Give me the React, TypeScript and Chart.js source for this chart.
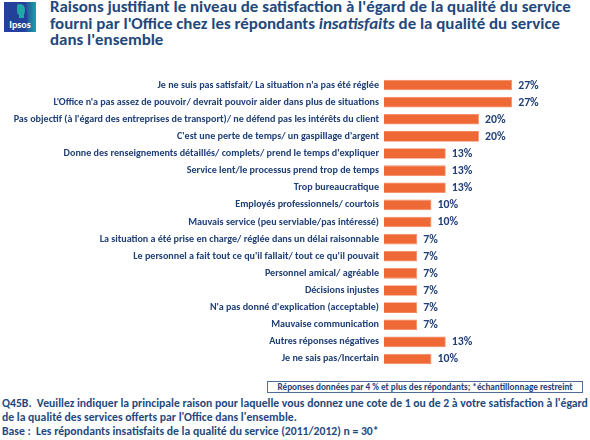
import React, { useEffect, useRef } from "react";
import { Chart, registerables } from "chart.js";

Chart.register(...registerables);

const categories: string[] = [
  "Je ne suis pas satisfait/ La situation n'a pas été réglée",
  "L'Office n'a pas assez de pouvoir/ devrait pouvoir aider dans plus de situations",
  "Pas objectif (à l'égard des entreprises de transport)/ ne défend pas les intérêts du client",
  "C'est une perte de temps/ un gaspillage d'argent",
  "Donne des renseignements détaillés/ complets/ prend le temps d'expliquer",
  "Service lent/le processus prend trop de temps",
  "Trop bureaucratique",
  "Employés professionnels/ courtois",
  "Mauvais service (peu serviable/pas intéressé)",
  "La situation a été prise en charge/ réglée dans un délai raisonnable",
  "Le personnel a fait tout ce qu'il fallait/ tout ce qu'il pouvait",
  "Personnel amical/ agréable",
  "Décisions injustes",
  "N'a pas donné d'explication (acceptable)",
  "Mauvaise communication",
  "Autres réponses négatives",
  "Je ne sais pas/Incertain",
];

const values: number[] = [27, 27, 20, 20, 13, 13, 13, 10, 10, 7, 7, 7, 7, 7, 7, 13, 10];

const titleLine1 = "Raisons justifiant le niveau de satisfaction à l'égard de la qualité du service";
const titleLine2a = "fourni par l'Office chez les répondants ";
const titleLine2b = "insatisfaits";
const titleLine2c = " de la qualité du service";
const titleLine3 = "dans l'ensemble";
const noteText = "Réponses données par 4 % et plus des répondants; *échantillonnage restreint";
const footLines = [
  "Q45B.  Veuillez indiquer la principale raison pour laquelle vous donnez une cote de 1 ou de 2 à votre satisfaction à l'égard",
  "de la qualité des services offerts par l'Office dans l'ensemble.",
  "Base :  Les répondants insatisfaits de la qualité du service (2011/2012) n = 30*",
];

const NAVY = "#1F3F77";
const TITLE = "#1F497D";
const ORANGE = "#EF6936";
const FONT = "Carlito, Lato, sans-serif";

const valueLabels = {
  id: "valueLabels",
  afterDatasetsDraw(chart: any) {
    const ctx = chart.ctx;
    const meta = chart.getDatasetMeta(0);
    ctx.save();
    ctx.font = `bold 11.8px ${FONT}`;
    ctx.fillStyle = NAVY;
    ctx.textAlign = "left";
    ctx.textBaseline = "middle";
    meta.data.forEach((bar: any, i: number) => {
      ctx.fillText(`${values[i]}%`, bar.x + 6, bar.y + 0.5);
    });
    ctx.restore();
  },
};

function Logo() {
  return (
    <svg width="34" height="32" viewBox="0 0 34 32" style={{ position: "absolute", left: 3, top: 1 }}>
      <defs>
        <linearGradient id="tg" x1="0" y1="0" x2="1" y2="0">
          <stop offset="0" stopColor="#2A4A9A" />
          <stop offset="1" stopColor="#15A3A8" />
        </linearGradient>
      </defs>
      <rect x="1" y="1" width="32" height="30" fill="#23409A" />
      <path d="M22 1 L33 1 L33 31 L22 31 Q27 20 22 1 Z" fill="url(#tg)" />
      <path d="M14 5 Q14 3 17 3 Q22 3 22 9 Q22 12 21 13 L21 17 L16 17 L16 14 Q14 13 14 10 Z" fill="#1FA8A6" />
      <text x="17" y="27" textAnchor="middle" fill="#FFFFFF" fontFamily={FONT} fontWeight="bold" fontSize="10">Ipsos</text>
    </svg>
  );
}

export default function App() {
  const ref = useRef<HTMLCanvasElement | null>(null);

  useEffect(() => {
    document.body.style.margin = "0";
    const chart = new Chart(ref.current!, {
      type: "bar",
      data: {
        labels: categories,
        datasets: [
          {
            data: values,
            backgroundColor: ORANGE,
            borderColor: "#F3875C",
            borderWidth: 0.8,
            barPercentage: 0.62,
            categoryPercentage: 1,
          },
        ],
      },
      options: {
        indexAxis: "y",
        animation: false,
        responsive: false,
        maintainAspectRatio: false,
        layout: { padding: { top: 6.5, bottom: 7.5, left: 0, right: 0 } },
        plugins: {
          legend: { display: false },
          tooltip: { enabled: false },
          title: { display: false },
        },
        scales: {
          x: {
            display: false,
            min: 0,
            max: 43.4,
          },
          y: {
            grid: { display: false, drawTicks: false },
            border: { display: false },
            ticks: {
              color: NAVY,
              padding: 5,
              font: { family: FONT, size: 10.1, weight: "bold" },
              autoSkip: false,
            },
            afterFit(scale: any) {
              scale.width = 384;
              scale.paddingTop = 0;
              scale.paddingBottom = 0;
            },
          },
        },
      },
      plugins: [valueLabels],
    });
    return () => chart.destroy();
  }, []);

  return (
    <div style={{ position: "relative", width: 590, height: 440, overflow: "hidden", background: "#FFFFFF", fontFamily: FONT }}>
      <Logo />
      <div
        style={{
          position: "absolute",
          left: 50,
          top: -1,
          width: 540,
          fontSize: 16.9,
          lineHeight: "16.7px",
          fontWeight: "bold",
          color: TITLE,
          whiteSpace: "pre",
        }}
      >
        <div>{titleLine1}</div>
        <div>
          {titleLine2a}
          <i>{titleLine2b}</i>
          {titleLine2c}
        </div>
        <div>{titleLine3}</div>
      </div>
      <canvas ref={ref} width={590} height={305} style={{ position: "absolute", left: 0, top: 70 }} />
      <div
        style={{
          position: "absolute",
          left: 267,
          top: 381,
          width: 316,
          height: 12,
          border: "1px solid #4F6C99",
          boxSizing: "border-box",
          fontSize: 9.2,
          lineHeight: "10px",
          fontWeight: "bold",
          color: NAVY,
          textAlign: "center",
          whiteSpace: "pre",
        }}
      >
        {noteText}
      </div>
      <div
        style={{
          position: "absolute",
          left: 2,
          top: 397,
          fontSize: 11.7,
          lineHeight: "13.8px",
          fontWeight: "bold",
          color: TITLE,
          whiteSpace: "pre",
        }}
      >
        {footLines.map((l, i) => (
          <div key={i}>{l}</div>
        ))}
      </div>
    </div>
  );
}
